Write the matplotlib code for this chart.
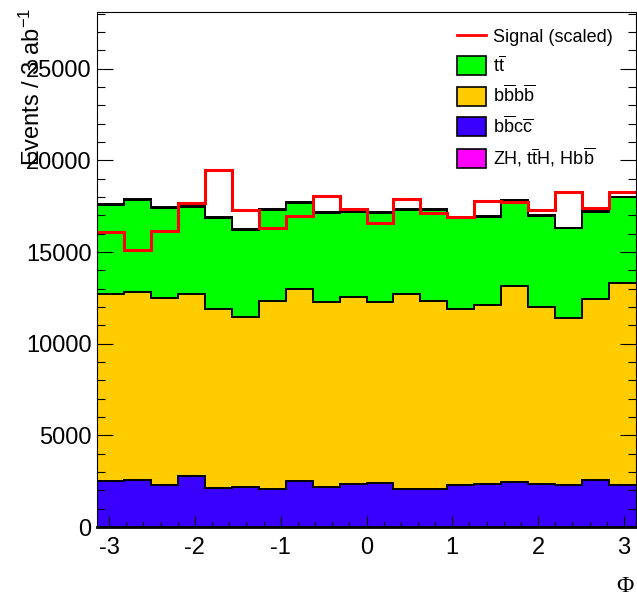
import matplotlib
matplotlib.use('Agg')
import matplotlib.pyplot as plt
from matplotlib.lines import Line2D
from matplotlib.patches import Patch
import numpy as np

plt.rcParams['font.family'] = ['Liberation Sans', 'DejaVu Sans']
plt.rcParams['mathtext.fontset'] = 'custom'
plt.rcParams['mathtext.rm'] = 'Liberation Sans'
plt.rcParams['mathtext.it'] = 'Liberation Sans:italic'
plt.rcParams['axes.unicode_minus'] = False

# 20 bins in Phi from -pi to pi
n_bins = 20
bbcc = [2530, 2560, 2270, 2760, 2120, 2200, 2090, 2490, 2180, 2340,
        2390, 2070, 2070, 2280, 2360, 2470, 2360, 2310, 2560, 2270]
bbbb = [10210, 10270, 10230, 9930, 9770, 9260, 10250, 10490, 10070, 10190,
        9880, 10620, 10270, 9620, 9740, 10670, 9650, 9120, 9880, 11050]
ttbar = [4840, 5010, 4920, 4790, 4970, 4740, 4970, 4700, 4900, 4680,
         4860, 4620, 4950, 4950, 4840, 4660, 4970, 4860, 4770, 4660]
higgs = [40, 38, 41, 36, 39, 42, 37, 40, 38, 41,
         39, 40, 37, 42, 38, 40, 41, 38, 39, 40]
signal = [16110, 15110, 16160, 17690, 19480, 17300, 16300, 16980, 18080, 17330,
          16600, 17880, 17120, 16930, 17800, 17750, 17300, 18260, 17390, 18260]

labels = ['Signal (scaled)',
          r'$\mathrm{t\overline{t}}$',
          r'$\mathrm{b\overline{b}b\overline{b}}$',
          r'$\mathrm{b\overline{b}c\overline{c}}$',
          r'ZH, t$\mathrm{\overline{t}}$H, Hb$\mathrm{\overline{b}}$']
colors = ['#3a00ff', '#ffcc00', '#00ff00', '#ff00ff']

edges = np.linspace(-np.pi, np.pi, n_bins + 1)
stack = np.cumsum(np.array([bbcc, bbbb, ttbar, higgs]), axis=0)

fig = plt.figure(figsize=(6.37, 6.05), dpi=100)
ax = fig.add_axes([97 / 637, 78 / 605, 539 / 637, 515 / 605])

for i in range(len(stack) - 1, -1, -1):
    below = stack[i - 1] if i > 0 else np.zeros(n_bins)
    ax.stairs(stack[i], edges, baseline=below, fill=True, color=colors[i], lw=0)
for i in range(len(stack)):
    ax.stairs(stack[i], edges, baseline=None, color='k', lw=1.4)
ax.stairs(signal, edges, baseline=None, color='#ff0000', lw=2.2)

ax.set_xlim(-np.pi, np.pi)
ax.set_ylim(0, 28100)
ax.set_xticks(range(-3, 4))
ax.set_xticks(np.arange(-3.0, 3.01, 0.2), minor=True)
ax.set_yticks(range(0, 28001, 5000))
ax.set_yticks(range(0, 28001, 1000), minor=True)
ax.tick_params(axis='both', which='both', direction='in', right=True,
               labelsize=17, width=0.8)
ax.tick_params(axis='x', which='major', length=7.7, pad=7)
ax.tick_params(axis='x', which='minor', length=3.6)
ax.tick_params(axis='y', which='major', length=11.3, pad=4)
ax.tick_params(axis='y', which='minor', length=6)
ax.spines['bottom'].set_linewidth(2)

ax.set_ylabel(r'Events / 3 ab$^{-1}$', loc='top', fontsize=17)
ax.yaxis.set_label_coords(-0.097, 1.008)
ax.set_xlabel('Φ', loc='right', fontsize=17, family='Liberation Serif')
ax.xaxis.set_label_coords(0.995, -0.095)

handles = [Line2D([0], [0], color='#ff0000', lw=2)]
handles += [Patch(facecolor=c, edgecolor='k', lw=1.2)
            for c in ['#00ff00', '#ffcc00', '#3a00ff', '#ff00ff']]
ax.legend(handles, labels, loc='upper left',
          bbox_to_anchor=(457 / 637, 1 - 27 / 605),
          bbox_transform=fig.transFigure, frameon=False, fontsize=13,
          handlelength=1.6, handleheight=1.22, labelspacing=0.5,
          handletextpad=0.4, borderpad=0, borderaxespad=0)

fig.savefig('out.png', dpi=100)
